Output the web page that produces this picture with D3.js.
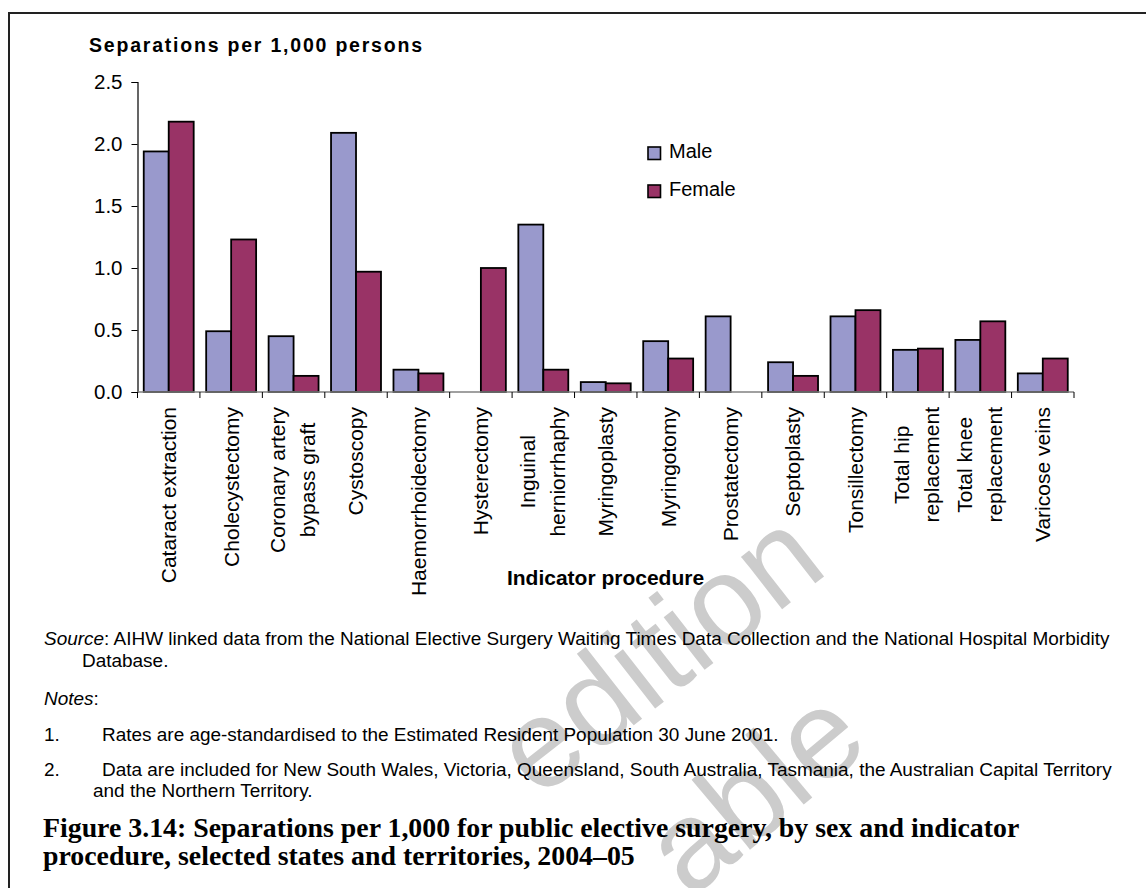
<!DOCTYPE html>
<html><head><meta charset="utf-8">
<script src="https://d3js.org/d3.v7.min.js"></script>
<style>
html,body{margin:0;padding:0;background:#fff;}
svg{display:block;}
text{font-family:Arial,"Liberation Sans",sans-serif;fill:#000;}
</style></head>
<body>
<svg id="chart" width="1146" height="888"></svg>
<script>
// ---- data ----
const categories = ["Cataract extraction","Cholecystectomy","Coronary artery|bypass graft","Cystoscopy","Haemorrhoidectomy","Hysterectomy","Inguinal|herniorrhaphy","Myringoplasty","Myringotomy","Prostatectomy","Septoplasty","Tonsillectomy","Total hip|replacement","Total knee|replacement","Varicose veins"];
const seriesNames = ["Male","Female"];
const maleValues   = [1.94,0.49,0.45,2.09,0.18,0.00,1.35,0.08,0.41,0.61,0.24,0.61,0.34,0.42,0.15];
const femaleValues = [2.18,1.23,0.13,0.97,0.15,1.00,0.18,0.07,0.27,0.00,0.13,0.66,0.35,0.57,0.27];
const yTicks = [0,0.5,1.0,1.5,2.0,2.5];
const colors = ["#9999CC","#993366"];

const svg = d3.select("#chart");

// watermark (behind everything)
const wm = svg.append("g").style("font-family","Arial, 'Liberation Sans', sans-serif");
wm.append("text").attr("transform","translate(538,800) rotate(-38)").attr("font-size",126).style("fill","#cccccc").text("edition");
wm.append("text").attr("transform","translate(690,900) rotate(-40)").attr("font-size",126).style("fill","#cccccc").text("able");

// frame
svg.append("rect").attr("x",9).attr("y",13).attr("width",1300).attr("height",1000)
  .attr("fill","none").attr("stroke","#222").attr("stroke-width",2);

const x = d3.scaleBand().domain(categories).range([137.5,1074]).padding(0);
const y = d3.scaleLinear().domain([0,2.5]).range([392,82]);
const bw = x.bandwidth();

// y axis
const yAxis = d3.axisLeft(y).tickValues(yTicks).tickFormat(d3.format(".1f")).tickSizeOuter(0).tickSize(6).tickPadding(9);
const gy = svg.append("g").attr("transform","translate(137.5,0)").call(yAxis);
gy.select(".domain").attr("stroke","#000").attr("stroke-width",1.2);
gy.selectAll(".tick line").attr("stroke","#000");
gy.selectAll(".tick text").attr("font-size",20.5).style("font-family","Arial, 'Liberation Sans', sans-serif").attr("fill","#000");

// bars
const data = categories.map((c,i)=>({c, v:[maleValues[i],femaleValues[i]]}));
const gb = svg.append("g");
data.forEach(d=>{
  d.v.forEach((v,k)=>{
    if(v<=0) return;
    gb.append("rect")
      .attr("x", x(d.c) + bw*0.1 + k*bw*0.4)
      .attr("y", y(v))
      .attr("width", bw*0.4)
      .attr("height", y(0)-y(v))
      .attr("fill", colors[k]).attr("stroke","#000").attr("stroke-width",1.8);
  });
});

// x axis line + ticks at boundaries
svg.append("line").attr("x1",137.5).attr("x2",1074).attr("y1",y(0)).attr("y2",y(0)).attr("stroke","#808080").attr("stroke-width",1.5);
const bounds = categories.map(c=>x(c)).concat([x(categories[categories.length-1])+bw]);
svg.append("g").selectAll("line").data(bounds).join("line")
  .attr("x1",d=>d).attr("x2",d=>d).attr("y1",y(0)).attr("y2",y(0)+6).attr("stroke","#000").attr("stroke-width",1);

// x labels (rotated)
const gl = svg.append("g");
categories.forEach(c=>{
  const lines = c.split("|");
  const cx = x(c) + bw/2;
  const n = lines.length;
  const offs = n===1 ? [0] : [-16,14];
  const nodes = lines.map((ln,i)=>gl.append("text").attr("font-size",21).attr("dy","0.35em").text(ln));
  const lens = nodes.map(t=>t.node().getComputedTextLength());
  const maxL = Math.max(...lens);
  const top = 407;
  nodes.forEach((t,i)=>{
    t.attr("text-anchor","middle")
     .attr("transform",`translate(${cx+offs[i]},${top+maxL/2}) rotate(-90)`);
  });
});

// axis titles
svg.append("text").attr("x",605.5).attr("y",585).attr("text-anchor","middle")
  .attr("font-size",21).attr("font-weight","bold").text("Indicator procedure");
svg.append("text").attr("x",89).attr("y",52).attr("font-size",19.5).attr("font-weight","bold")
  .attr("textLength",333).attr("lengthAdjust","spacing").text("Separations per 1,000 persons");

// legend
const lg = svg.append("g");
seriesNames.forEach((s,i)=>{
  const yy = 147 + i*38;
  lg.append("rect").attr("x",648).attr("y",yy).attr("width",12.5).attr("height",12.5)
    .attr("fill",colors[i]).attr("stroke","#000").attr("stroke-width",1.6);
  lg.append("text").attr("x",669).attr("y",yy+11).attr("font-size",20).text(s);
});

// notes
function fitSize(textSel, target, base){
  textSel.attr("font-size",base);
  const w = textSel.node().getComputedTextLength();
  textSel.attr("font-size", base*target/w);
  return base*target/w;
}
const notes = svg.append("g");
const src = notes.append("text").attr("x",44).attr("y",645);
src.append("tspan").attr("font-style","italic").text("Source");
src.append("tspan").text(": AIHW linked data from the National Elective Surgery Waiting Times Data Collection and the National Hospital Morbidity");
const fs = fitSize(src, 1110-44, 15);
const noteLines = [
  {x:82,y:667,t:"Database."},
  {x:102,y:741,t:"Rates are age-standardised to the Estimated Resident Population 30 June 2001."},
  {x:102,y:776,t:"Data are included for New South Wales, Victoria, Queensland, South Australia, Tasmania, the Australian Capital Territory"},
  {x:93,y:797,t:"and the Northern Territory."},
  {x:44,y:741,t:"1."},
  {x:44,y:776,t:"2."}
];
noteLines.forEach(d=>notes.append("text").attr("x",d.x).attr("y",d.y).attr("font-size",fs).text(d.t));
const nt = notes.append("text").attr("x",44).attr("y",705).attr("font-size",fs);
nt.append("tspan").attr("font-style","italic").text("Notes");
nt.append("tspan").text(":");

// caption
const cap1 = svg.append("text").attr("x",43).attr("y",837).attr("font-weight","bold")
  .style("font-family","'Liberation Serif','DejaVu Serif',serif")
  .text("Figure 3.14: Separations per 1,000 for public elective surgery, by sex and indicator");
const cfs = fitSize(cap1, 1020-43, 22);
svg.append("text").attr("x",43).attr("y",865).attr("font-weight","bold").attr("font-size",cfs)
  .style("font-family","'Liberation Serif','DejaVu Serif',serif")
  .text("procedure, selected states and territories, 2004–05");
</script>
</body></html>
